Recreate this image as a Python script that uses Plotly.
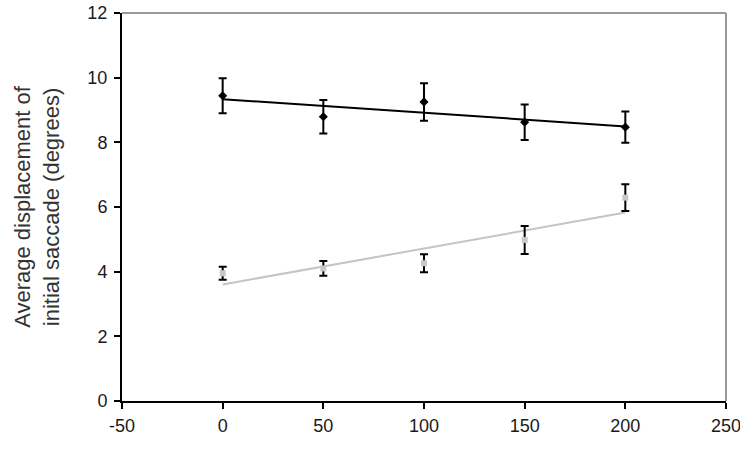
import numpy as np
import plotly.graph_objects as go

x_vals = [0, 50, 100, 150, 200]
black_y = [9.44, 8.79, 9.25, 8.62, 8.47]
black_err = [0.54, 0.52, 0.58, 0.55, 0.48]
gray_y = [3.95, 4.10, 4.26, 4.98, 6.29]
gray_err = [0.20, 0.23, 0.28, 0.43, 0.41]
x_ticks = [-50, 0, 50, 100, 150, 200, 250]
x_tick_text = ["-50", "0", "50", "100", "150", "200", "250"]
y_ticks = [0, 2, 4, 6, 8, 10, 12]
y_title = "Average displacement of<br>initial saccade (degrees)"

fig = go.Figure()

def trend(xs, ys):
    k, b = np.polyfit(xs, ys, 1)
    xx = np.array([min(xs), max(xs)])
    return xx, k * xx + b

tx, ty = trend(x_vals, black_y)
fig.add_trace(go.Scatter(x=tx, y=ty, mode="lines", line=dict(color="black", width=2), showlegend=False, hoverinfo="skip"))
tx2, ty2 = trend(x_vals, gray_y)
fig.add_trace(go.Scatter(x=tx2, y=ty2, mode="lines", line=dict(color="#c4c4c4", width=2), showlegend=False, hoverinfo="skip"))

fig.add_trace(go.Scatter(
    x=x_vals, y=black_y, mode="markers",
    marker=dict(symbol="diamond", size=7, color="black"),
    error_y=dict(type="data", array=black_err, color="black", thickness=2, width=4),
    showlegend=False))
fig.add_trace(go.Scatter(
    x=x_vals, y=gray_y, mode="markers",
    marker=dict(symbol="square", size=6, color="#c8c8c8"),
    error_y=dict(type="data", array=gray_err, color="black", thickness=2, width=4),
    showlegend=False))

fig.update_layout(
    width=740, height=474,
    margin=dict(l=122, r=14, t=13, b=73),
    paper_bgcolor="white", plot_bgcolor="white",
    font=dict(family="Liberation Sans, Arial, sans-serif", color="#1a1a1a"),
    xaxis=dict(range=[-50, 250], tickvals=x_ticks, ticktext=x_tick_text, showgrid=False, zeroline=False,
               showline=True, linecolor="black", linewidth=2, automargin=False,
               ticks="outside", ticklen=6, tickwidth=2, tickcolor="black",
               ticklabeloverflow="allow", ticklabelstandoff=1,
               tickfont=dict(size=18)),
    yaxis=dict(range=[0, 12], tickvals=y_ticks, showgrid=False, zeroline=False,
               showline=True, linecolor="black", linewidth=2, automargin=False,
               ticks="outside", ticklen=6, tickwidth=2, tickcolor="black",
               ticklabeloverflow="allow", ticklabelstandoff=3,
               tickfont=dict(size=18),
               title=dict(text=y_title, font=dict(size=22, color="#333"), standoff=22)),
    shapes=[
        dict(type="line", xref="paper", yref="paper", x0=0, x1=1, y0=1, y1=1, line=dict(color="#999", width=2)),
        dict(type="line", xref="paper", yref="paper", x0=1, x1=1, y0=0, y1=1, line=dict(color="#999", width=2)),
    ],
)

fig.write_html("out.html")
